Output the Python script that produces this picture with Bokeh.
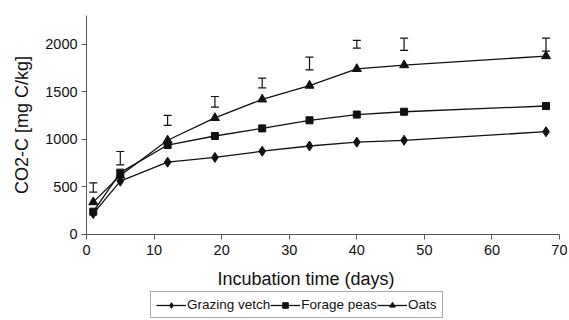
from bokeh.plotting import figure
from bokeh.models import (ColumnDataSource, Whisker, TeeHead, FixedTicker, Legend, LegendItem,
                          Range1d, Label)
from bokeh.embed import file_html
from bokeh.resources import INLINE

days = [1, 5, 12, 19, 26, 33, 40, 47, 68]
grazing_vetch = [220, 560, 760, 810, 875, 930, 970, 990, 1080]
forage_peas = [240, 650, 940, 1035, 1115, 1200, 1260, 1290, 1350]
oats = [340, 620, 990, 1225, 1420, 1565, 1740, 1780, 1875]
err_lower = [445, 732, 1146, 1338, 1541, 1730, 1958, 1934, 1926]
err_upper = [543, 872, 1251, 1450, 1643, 1864, 2039, 2063, 2063]
x_ticks = [0, 10, 20, 30, 40, 50, 60, 70]
y_ticks = [0, 500, 1000, 1500, 2000]

FONT = "Liberation Sans"
INK = "#111111"

W, H = 567, 318
# frame spans the whole canvas; axes are pinned at zero so their labels are not clipped
p = figure(width=W, height=H, output_backend="svg", toolbar_location=None,
           x_range=Range1d(-12.73, 71.18), y_range=Range1d(-883, 2459),
           min_border_left=0, min_border_right=0, min_border_top=0, min_border_bottom=0)
p.outline_line_color = None
p.xgrid.visible = False
p.ygrid.visible = False

for ax in (p.xaxis[0], p.yaxis[0]):
    ax.axis_line_color = "#555555"
    ax.major_tick_line_color = "#555555"
    ax.minor_tick_line_color = None
    ax.major_tick_in = 0
    ax.major_tick_out = 5
    ax.major_label_text_font = FONT
    ax.major_label_text_font_size = "14.5px"
    ax.major_label_text_color = INK
    ax.axis_label_text_font = FONT
    ax.axis_label_text_font_size = "18px"
    ax.axis_label_text_font_style = "normal"
    ax.axis_label_text_color = INK

p.xaxis.ticker = FixedTicker(ticks=x_ticks)
p.yaxis.ticker = FixedTicker(ticks=y_ticks)
p.xaxis.fixed_location = 0
p.yaxis.fixed_location = 0
p.xaxis.bounds = (0, 70)
p.yaxis.bounds = (0, 2300)
p.yaxis.axis_label = "CO2-C [mg C/kg]"
p.yaxis.axis_label_standoff = 10
p.xaxis.major_label_standoff = 6
p.yaxis.major_label_standoff = 4

p.add_layout(Label(x=305.5, y=H - 278, x_units="screen", y_units="screen",
                   text="Incubation time (days)", text_align="center",
                   text_baseline="alphabetic", text_font=FONT, text_font_size="18px",
                   text_color=INK))

src = ColumnDataSource(dict(x=days, gv=grazing_vetch, fp=forage_peas, oa=oats,
                            lo=err_lower, hi=err_upper))

w = Whisker(base="x", lower="lo", upper="hi", source=src, line_color=INK, line_width=1.2,
            lower_head=TeeHead(size=8, line_color=INK, line_width=1.2),
            upper_head=TeeHead(size=8, line_color=INK, line_width=1.2))
p.add_layout(w)

l1 = p.line("x", "gv", source=src, line_color=INK, line_width=1.3)
m1 = p.scatter("x", "gv", source=src, marker="diamond", size=10, color=INK)
l2 = p.line("x", "fp", source=src, line_color=INK, line_width=1.3)
m2 = p.scatter("x", "fp", source=src, marker="square", size=7, color=INK)
l3 = p.line("x", "oa", source=src, line_color=INK, line_width=1.3)
m3 = p.scatter("x", "oa", source=src, marker="triangle", size=9, color=INK)

legend = Legend(items=[LegendItem(label="Grazing vetch", renderers=[l1, m1]),
                       LegendItem(label="Forage peas", renderers=[l2, m2]),
                       LegendItem(label="Oats", renderers=[l3, m3])],
                orientation="horizontal", location=(150, 0),
                label_text_font=FONT, label_text_font_size="13.5px", label_text_color=INK,
                glyph_width=30, glyph_height=14, label_standoff=1, spacing=0,
                padding=5, margin=0, border_line_color="#555555", border_line_width=1,
                background_fill_alpha=1.0, label_height=14)
p.add_layout(legend, "center")

open("out.html", "w").write(file_html(p, INLINE))
